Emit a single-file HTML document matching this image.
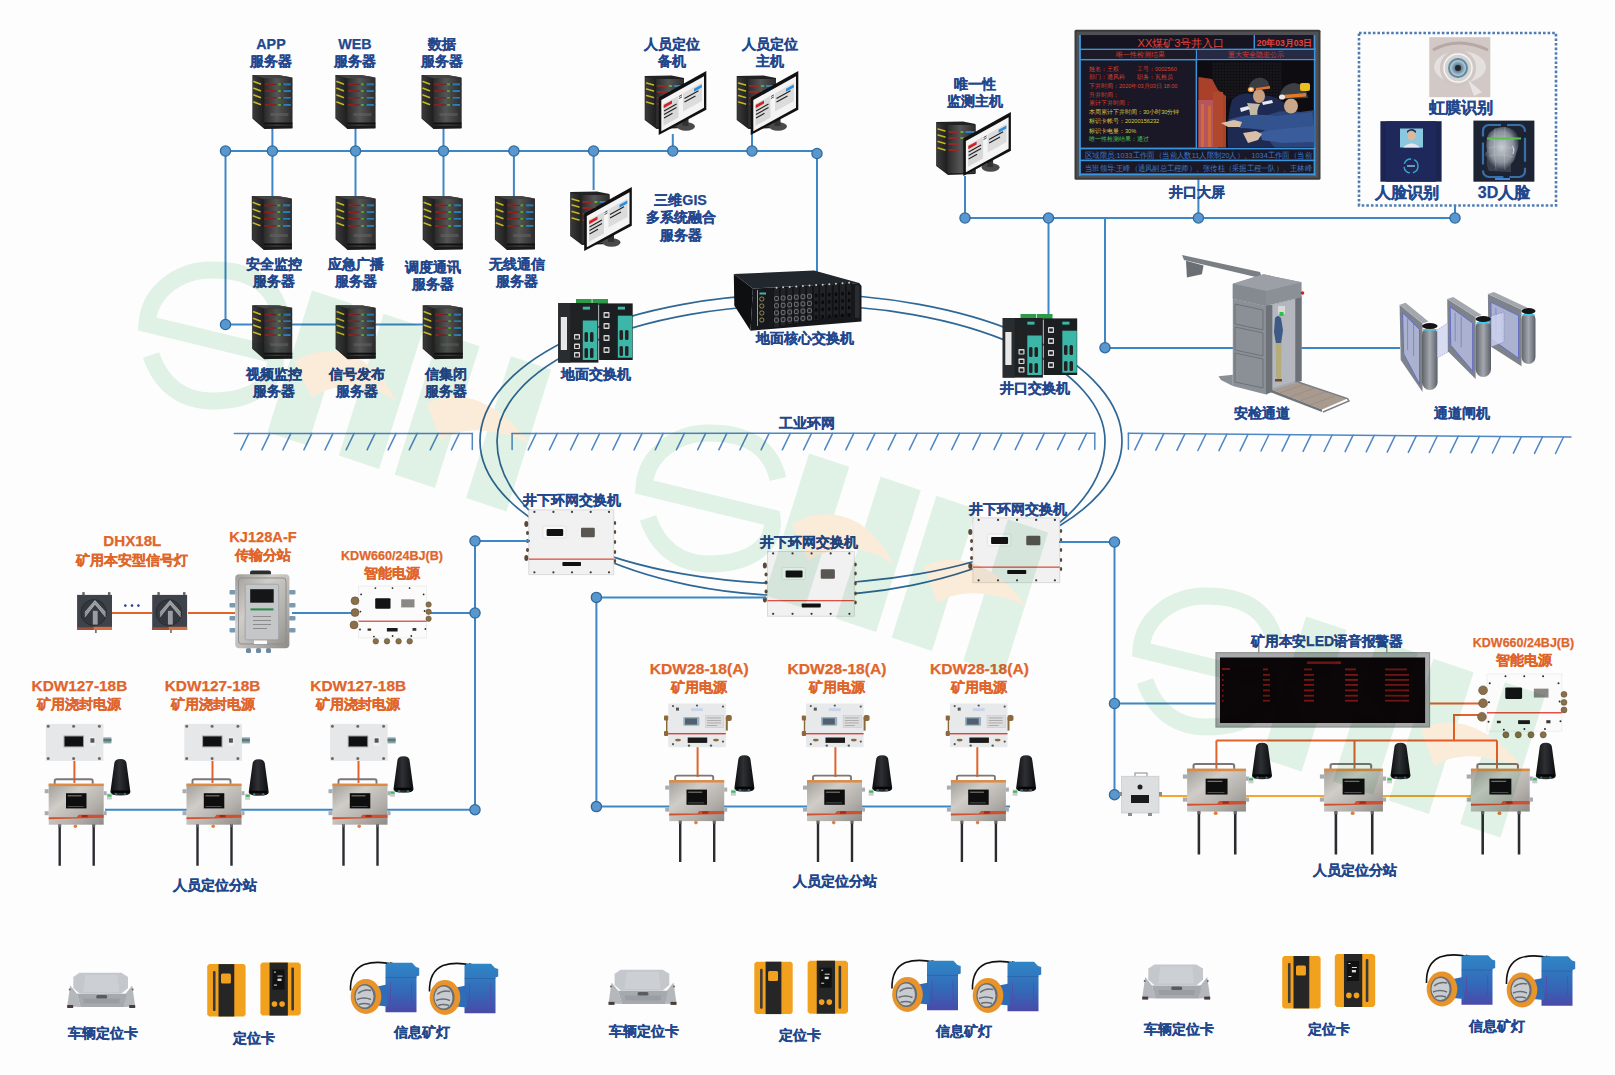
<!DOCTYPE html>
<html><head><meta charset="utf-8"><title>人员定位系统拓扑图</title>
<style>
html,body{margin:0;padding:0;background:#fff;}
body{width:1615px;height:1075px;overflow:hidden;font-family:"Liberation Sans", sans-serif;}
svg{display:block;}
svg text{font-family:"Liberation Sans", sans-serif;}
</style></head><body>
<svg width="1615" height="1075" viewBox="0 0 1615 1075">
<defs>

<linearGradient id="gSrvF" x1="0" x2="1" y1="0" y2="0">
 <stop offset="0" stop-color="#2a2a2a"/><stop offset="0.45" stop-color="#555"/><stop offset="1" stop-color="#2c2c2c"/>
</linearGradient>
<linearGradient id="gSrvS" x1="0" x2="1">
 <stop offset="0" stop-color="#3a3a3a"/><stop offset="1" stop-color="#1e1e1e"/>
</linearGradient>
<symbol id="srv" viewBox="0 0 40 54" overflow="visible" preserveAspectRatio="none">
 <path d="M0 0 L27 0.3 L40 2.6 L40 53 L12 54 L0 43.5 Z" fill="#222"/>
 <path d="M0.6 1 L11.8 3 L11.8 53 L0.6 43 Z" fill="url(#gSrvS)"/>
 <rect x="11.8" y="3" width="28" height="49" fill="url(#gSrvF)"/>
 <path d="M0 0 L27 0.3 L40 2.6 L11.8 3.2 Z" fill="#444"/>
 <g stroke-width="1.6" stroke-linecap="round">
  <path d="M13 9.4 H22 M13 16.1 H22 M13 22.8 H22 M13 29.9 H22" stroke="#b02020"/>
  <path d="M26 9.4 H28 M26 16.1 H28 M26 22.8 H28 M26 29.9 H28" stroke="#5fd030"/>
  <path d="M31.5 9.4 H38 M31.5 16.1 H38 M31.5 22.8 H38 M31.5 29.9 H38" stroke="#2c9be8"/>
  <path d="M1.5 6.6 L8 9 M1.5 13.3 L8 15.7 M1.5 20 L8 22.4 M1.5 27 L8 29.4" stroke="#c8b820"/>
 </g>
 <path d="M11.8 9.4 H40 M11.8 16.1 H40 M11.8 22.8 H40 M11.8 29.9 H40" stroke="#111" stroke-width="0.5" opacity="0.6"/>
 <rect x="18" y="38" width="18" height="3" fill="#666" opacity="0.5"/>
 <rect x="11.8" y="47.5" width="28.2" height="2" fill="#111"/>
 <rect x="11.8" y="50.5" width="28.2" height="3" fill="#1a1a1a"/>
</symbol>
<symbol id="monS" viewBox="0 0 62 64" overflow="visible" preserveAspectRatio="none">
 <path d="M0.2 5 L27 4.5 L39.5 7 L39.5 57 L12 58 L0.2 49 Z" fill="#222"/>
 <path d="M0.8 6 L11.5 8 L11.5 57 L0.8 48.5 Z" fill="url(#gSrvS)"/>
 <rect x="11.5" y="8" width="28" height="48" fill="url(#gSrvF)"/>
 <g stroke-width="1.4" stroke-linecap="round">
  <path d="M2 12 L9 14 M2 18 L9 20 M2 24.5 L9 26.5 M2 31 L9 33" stroke="#c8b820"/>
  <path d="M13 15 H22 M13 21 H22 M13 27 H22 M13 33 H22" stroke="#b02020"/>
  <path d="M25 15 H27 M25 21 H27" stroke="#5fd030"/>
  <path d="M30 15 H38" stroke="#2c9be8"/>
 </g>
</symbol>
<symbol id="monM" viewBox="0 0 62 64" overflow="visible" preserveAspectRatio="none">
 <ellipse cx="41.5" cy="55.5" rx="9" ry="4.2" fill="#4a4a4a"/>
 <rect x="38" y="48" width="6" height="7" fill="#333"/>
 <path d="M14.2 26.5 L61.8 0 L61.8 38.8 L14.2 64 Z" fill="#111"/>
 <path d="M16.8 29 L59.5 5.2 L59.5 36.8 L16.8 60.2 Z" fill="#f4f4f4"/>
 <path d="M19 33 L34 24.7 L34 46.5 L19 54.8 Z" fill="#d8d8d8"/>
 <path d="M38.5 22.3 L57.5 11.8 L57.5 30 L38.5 40.5 Z" fill="#dcdcdc"/>
 <path d="M19.2 34 L27.5 29.4 L27.5 32.6 L19.2 37.2 Z" fill="#d42020"/>
 <path d="M49.5 17.8 L57.3 13.5 L57.3 16.5 L49.5 20.8 Z" fill="#2a8ee0"/>
 <g stroke="#222" stroke-width="1.1">
  <path d="M19.5 40 L32 33 M19.5 43.5 L32 36.5 M19.5 47 L28 42.3"/>
  <path d="M40 27.5 L54 19.8 M40 31 L51 25"/>
  <path d="M34.5 25.5 L37.5 23.8 M34.5 27.5 L37.5 25.8" stroke-width="0.8"/>
 </g>
</symbol>
<symbol id="mon" viewBox="0 0 62 64" overflow="visible" preserveAspectRatio="none">
 <use href="#monS" x="0" y="0" width="62" height="64"/>
 <use href="#monM" x="0" y="0" width="62" height="64"/>
</symbol>


<linearGradient id="gPhoto" x1="0" x2="1" y1="0" y2="1">
 <stop offset="0" stop-color="#2a1a18"/><stop offset="0.5" stop-color="#1e2236"/><stop offset="1" stop-color="#2b3a66"/>
</linearGradient>


<radialGradient id="gEye" cx="0.5" cy="0.5" r="0.6">
 <stop offset="0" stop-color="#3a4a5a"/><stop offset="0.18" stop-color="#6a8aa0"/><stop offset="0.35" stop-color="#b8c8d0"/>
 <stop offset="0.55" stop-color="#d8d4d2"/><stop offset="1" stop-color="#c8b8b4"/>
</radialGradient>
<radialGradient id="gFace3" cx="0.5" cy="0.45" r="0.5">
 <stop offset="0" stop-color="#c8ccd2"/><stop offset="0.7" stop-color="#8a909a"/><stop offset="1" stop-color="#3a4050"/>
</radialGradient>


<linearGradient id="gPil" x1="0" x2="1">
 <stop offset="0" stop-color="#5e636a"/><stop offset="0.5" stop-color="#a4a8ae"/><stop offset="1" stop-color="#5a5f66"/>
</linearGradient>


<symbol id="gsw" viewBox="0 0 77 65" overflow="visible" preserveAspectRatio="none">
 <rect x="19" y="1" width="15.7" height="6" fill="#2f9a48"/><rect x="35.4" y="1" width="15.6" height="6" fill="#2f9a48"/>
 <rect x="1.2" y="5" width="40.2" height="59.6" fill="#1f2224"/>
 <rect x="1.2" y="5" width="12" height="59.6" fill="#2a2d30"/>
 <rect x="3.8" y="19" width="6.2" height="33" fill="#e8e8e8"/>
 <rect x="25.8" y="22.5" width="14.5" height="39.5" fill="#3cb6a6"/>
 <rect x="25.8" y="8.7" width="7.2" height="2.9" fill="#3cb6a6"/>
 <g fill="#d8d8d8"><rect x="17" y="36" width="6" height="5.5" rx="0.8"/><rect x="17" y="45.5" width="6" height="5.5" rx="0.8"/><rect x="17" y="54" width="6" height="5.5" rx="0.8"/></g>
 <g fill="#222"><rect x="18.2" y="37.5" width="3.6" height="3"/><rect x="18.2" y="47" width="3.6" height="3"/><rect x="18.2" y="55.5" width="3.6" height="3"/>
  <rect x="27.5" y="34" width="3.5" height="10" rx="1.5"/><rect x="33" y="34" width="3.5" height="10" rx="1.5"/>
  <rect x="27.5" y="50" width="3.5" height="10" rx="1.5"/><rect x="33" y="50" width="3.5" height="10" rx="1.5"/>
  <rect x="16.5" y="15" width="5" height="14"/></g>
 <rect x="42.1" y="5.4" width="33.6" height="56.6" fill="#1c1f21"/>
 <rect x="60.8" y="17.7" width="14.5" height="42" fill="#3cb6a6"/>
 <rect x="60.8" y="8.7" width="7.2" height="2.9" fill="#3cb6a6"/>
 <g fill="#d8d8d8"><rect x="46.5" y="14" width="6" height="6" rx="0.8"/><rect x="46.5" y="25" width="6" height="6" rx="0.8"/><rect x="46.5" y="37" width="6" height="6" rx="0.8"/><rect x="46.5" y="49" width="6" height="6" rx="0.8"/></g>
 <g fill="#222"><rect x="47.7" y="15.5" width="3.6" height="3"/><rect x="47.7" y="26.5" width="3.6" height="3"/><rect x="47.7" y="38.5" width="3.6" height="3"/><rect x="47.7" y="50.5" width="3.6" height="3"/>
  <rect x="62.5" y="32" width="3.5" height="10" rx="1.5"/><rect x="68" y="32" width="3.5" height="10" rx="1.5"/>
  <rect x="62.5" y="48" width="3.5" height="10" rx="1.5"/><rect x="68" y="48" width="3.5" height="10" rx="1.5"/></g>
</symbol>
<symbol id="ugsw" viewBox="0 0 90 66" overflow="visible" preserveAspectRatio="none">
 <rect x="4.3" y="0.9" width="85" height="64.8" fill="#f1f1f1"/>
 <rect x="4.3" y="0.9" width="85" height="64.8" fill="none" stroke="#d4d4d4" stroke-width="0.8"/>
 <rect x="18.5" y="17" width="23" height="12" rx="1.5" fill="#f8f8f8" stroke="#d8d8d8" stroke-width="0.6"/>
 <rect x="22.1" y="19.9" width="16.6" height="7.1" rx="1" fill="#111"/>
 <rect x="56.5" y="18.7" width="13.8" height="9.5" rx="1.2" fill="#5a5652"/>
 <rect x="4.3" y="49.5" width="85" height="1.3" fill="#e05040"/>
 <rect x="37.9" y="53" width="18.6" height="4" rx="0.8" fill="#111"/>
 <g fill="#3a3a3a"><circle cx="9.9" cy="2.9" r="1.1"/><circle cx="28.9" cy="2.9" r="1.1"/><circle cx="47.5" cy="2.9" r="1.1"/><circle cx="66.2" cy="2.9" r="1.1"/><circle cx="84.5" cy="2.9" r="1.1"/>
  <circle cx="9.9" cy="63.3" r="1.1"/><circle cx="28.9" cy="63.3" r="1.1"/><circle cx="47.5" cy="63.3" r="1.1"/><circle cx="66.2" cy="63.3" r="1.1"/><circle cx="84.5" cy="63.3" r="1.1"/></g>
 <g fill="#5a4a38"><ellipse cx="1.8" cy="15" rx="2" ry="3"/><ellipse cx="3" cy="24" rx="1.5" ry="2"/><ellipse cx="3" cy="32" rx="1.5" ry="2"/><ellipse cx="3" cy="41" rx="1.5" ry="2"/><ellipse cx="1.8" cy="49" rx="2" ry="3"/>
  <ellipse cx="90.5" cy="14" rx="1.2" ry="2"/><ellipse cx="90.5" cy="23" rx="1.2" ry="2"/><ellipse cx="90.5" cy="33" rx="1.2" ry="2"/><ellipse cx="90.5" cy="43" rx="1.2" ry="2"/><ellipse cx="90.5" cy="52" rx="1.2" ry="2"/></g>
</symbol>


<linearGradient id="gSS" x1="0" x2="1" y1="0" y2="1">
 <stop offset="0" stop-color="#a09c98"/><stop offset="0.35" stop-color="#d0ccc8"/><stop offset="0.7" stop-color="#b2aeaa"/><stop offset="1" stop-color="#8e8a86"/>
</linearGradient>
<linearGradient id="gAnt" x1="0" x2="1">
 <stop offset="0" stop-color="#0e0e10"/><stop offset="0.45" stop-color="#2e3034"/><stop offset="1" stop-color="#0c0c0e"/>
</linearGradient>
<linearGradient id="gBat" x1="0" x2="0" y1="0" y2="1">
 <stop offset="0" stop-color="#2f86c6"/><stop offset="0.6" stop-color="#3468b8"/><stop offset="1" stop-color="#4a4aa8"/>
</linearGradient>
<symbol id="sub" viewBox="0 0 58 88" overflow="visible" preserveAspectRatio="none">
 <path d="M8 5 L8 1.5 Q8 0 10 0 L44 0 Q46 0 46 1.5 L46 5" fill="none" stroke="#7d7676" stroke-width="1.9"/>
 <rect x="2" y="4.5" width="55" height="41" fill="url(#gSS)"/>
 <rect x="2" y="4.5" width="55" height="2.4" fill="#e08a40"/>
 <rect x="19.3" y="14" width="20.5" height="15.2" fill="#0e0e0e"/>
 <g fill="#777"><rect x="21" y="16" width="14" height="1.2"/><rect x="21" y="27" width="16" height="0.6"/></g>
 <path d="M2 38 L30 38 L32 35.5 L57 35.5 L57 38.5 L2 40 Z" fill="#d05030"/>
 <rect x="35" y="35.8" width="6" height="2.2" fill="#a02818"/>
 <g fill="#a8acb0"><rect x="-2" y="10" width="4" height="4"/><rect x="-2" y="32" width="4" height="4"/><rect x="57" y="12" width="3" height="4"/><rect x="57" y="32" width="3" height="4"/></g>
 <circle cx="28.7" cy="47" r="1.8" fill="#e08040"/>
 <path d="M13 46 v40.5 M47 46 v40.5" stroke="#2a2c30" stroke-width="2.4"/>
 <rect x="11.5" y="45" width="3" height="3" fill="#666"/><rect x="45.5" y="45" width="3" height="3" fill="#666"/>
</symbol>
<symbol id="ant" viewBox="0 0 21 37" overflow="visible" preserveAspectRatio="none">
 <path d="M4.3 5 Q4.5 0 10.5 0 Q16.5 0 16.7 5 L20.5 33 Q20.5 36.5 10.5 36.5 Q0.5 36.5 0.5 33 Z" fill="url(#gAnt)"/>
 <rect x="2" y="31.5" width="17" height="2.5" fill="#050505"/>
 <circle cx="6" cy="35" r="1.2" fill="#3a6a7a"/><circle cx="15" cy="35" r="1.2" fill="#3a6a7a"/>
 <rect x="-3" y="34.5" width="5" height="6" fill="#c8ccd0"/><rect x="-2.5" y="35.5" width="4" height="2" fill="#30c050"/>
</symbol>
<symbol id="p127" viewBox="0 0 66 37" overflow="visible" preserveAspectRatio="none">
 <rect x="0" y="0" width="57.6" height="37" fill="#e6e7e8"/>
 <rect x="17.8" y="11.6" width="20.4" height="11.8" fill="#9a9c9e"/>
 <rect x="18.8" y="12.6" width="18.4" height="9.8" fill="#111"/>
 <rect x="43.8" y="13" width="5.8" height="9" fill="#f0f0f0"/><rect x="44.6" y="14.4" width="4" height="4.4" fill="#555"/>
 <g fill="#6a6a6a"><circle cx="2.4" cy="2.4" r="1.5"/><circle cx="27.8" cy="2.4" r="1.5"/><circle cx="53.6" cy="2.4" r="1.5"/>
 <circle cx="2.4" cy="34.6" r="1.5"/><circle cx="27.8" cy="34.6" r="1.5"/><circle cx="53.6" cy="34.6" r="1.5"/></g>
 <rect x="57.6" y="13.5" width="8" height="6" fill="#8aa4a8"/><rect x="57.6" y="15" width="8" height="2.5" fill="#5a7a80"/>
</symbol>
<symbol id="p28" viewBox="0 0 72 45" overflow="visible" preserveAspectRatio="none">
 <rect x="7.2" y="0" width="57.6" height="43.6" rx="1" fill="#e8e9eb"/>
 <rect x="22.3" y="13.4" width="16.1" height="8.8" rx="1.2" fill="#9ab0c0"/><rect x="24" y="14.8" width="12" height="6.2" fill="#506070"/>
 <rect x="44.3" y="11.9" width="18.5" height="12.2" fill="#dcdcdc" stroke="#c0c0c0" stroke-width="0.4"/>
 <g fill="#999"><rect x="46" y="14" width="14" height="0.7"/><rect x="46" y="16.5" width="14" height="0.7"/><rect x="46" y="19" width="14" height="0.7"/><rect x="46" y="21.5" width="10" height="0.7"/></g>
 <rect x="15" y="4" width="3" height="3" fill="#555"/>
 <rect x="30" y="4.5" width="12" height="3" fill="#c8d4e8"/>
 <rect x="7.2" y="29.4" width="57.6" height="1.4" fill="#e04040"/>
 <rect x="26.7" y="33.9" width="19.5" height="5.4" fill="#1a1a1a"/>
 <g fill="#555"><circle cx="12" cy="2.5" r="1.1"/><circle cx="36" cy="2" r="1.1"/><circle cx="62" cy="3" r="1.1"/><circle cx="12" cy="40.6" r="1.1"/><circle cx="28" cy="42" r="1.2"/><circle cx="50" cy="42" r="1.2"/><circle cx="62" cy="38" r="1.1"/></g>
 <g fill="#8a6a3a"><ellipse cx="17" cy="36.5" rx="3" ry="1.3"/><ellipse cx="55" cy="36.5" rx="3" ry="1.3"/>
  <rect x="3" y="12" width="4.2" height="5" rx="1"/><rect x="3" y="27.5" width="4.2" height="5" rx="1"/><rect x="5" y="14" width="1.5" height="17"/>
  <rect x="64.8" y="11.5" width="6" height="6" rx="2"/><rect x="64.8" y="14" width="2" height="13"/></g>
</symbol>
<symbol id="sig" viewBox="0 0 36 40" overflow="visible" preserveAspectRatio="none">
 <rect x="0.3" y="3.3" width="35.3" height="35.1" fill="#3e424a"/>
 <rect x="0.3" y="35.7" width="35.3" height="2.7" fill="#a05038"/>
 <rect x="17" y="35.2" width="18.6" height="3.2" fill="#d87040"/>
 <circle cx="17.1" cy="21" r="13" fill="#34373d" stroke="#26282c" stroke-width="0.8"/>
 <path d="M8.2 25 L18.4 12.2 L29.1 25" fill="none" stroke="#a8acb0" stroke-width="1.1"/>
 <path d="M8.2 23 L18.4 10.8 L29.1 23" fill="none" stroke="#a8acb0" stroke-width="1.1"/>
 <path d="M8.2 21 L18.4 9.2 L29.1 21" fill="none" stroke="#a8acb0" stroke-width="1.1"/>
 <rect x="16.2" y="19.2" width="4.9" height="13.8" fill="#9a9ea4"/>
 <g fill="#666"><rect x="5.5" y="0.5" width="2.5" height="3"/><rect x="31.5" y="0.5" width="2.5" height="3"/><rect x="18.5" y="38.4" width="1.6" height="3"/></g>
</symbol>
<symbol id="vcard" viewBox="0 0 68 36" overflow="visible" preserveAspectRatio="none">
 <path d="M3 13 L9.7 21.3 L13.3 34.5 L0 34 Z" fill="#b4b8bc"/>
 <path d="M65 13 L58.3 21.3 L56.8 34.5 L68 34 Z" fill="#b4b8bc"/>
 <path d="M9.7 21.3 L59.3 21.3 L56.8 34.5 L13.3 34.5 Z" fill="#a6aaae"/>
 <path d="M16 26 L53 26 L52 31 L17 31 Z" fill="#9a9ea2"/>
 <path d="M12.2 0.3 L54.2 0.3 L60.8 4.4 L60.8 15.6 L54 21.3 L12.5 21.3 L6.1 15.6 L6.1 4.4 Z" fill="#c4c8cc"/>
 <path d="M18 2.5 L50 2.5 L52 19.5 L16 19.5 Z" fill="#ccd0d4"/>
 <rect x="29" y="22.5" width="11" height="3.5" rx="1.5" fill="#5a5c60"/>
 <rect x="0" y="32.5" width="6" height="3" fill="#4a3c3c"/><rect x="62" y="32.5" width="6" height="3" fill="#4a3c3c"/>
 <circle cx="2.5" cy="17" r="1" fill="#666"/><circle cx="65.5" cy="17" r="1" fill="#666"/>
</symbol>
<symbol id="card1" viewBox="0 0 39 52.4" overflow="visible" preserveAspectRatio="none">
 <path d="M2 0 L37 0 L38.7 2 L38.7 50.4 L37 52.4 L2 52.4 L0 50.4 L0 2 Z" fill="#f2a11e"/>
 <rect x="11.4" y="0" width="15.9" height="52.4" fill="#262626"/>
 <rect x="13.9" y="9.4" width="10" height="10" rx="1.5" fill="#f2a11e"/>
 <rect x="5.8" y="7" width="2.6" height="40" rx="1" fill="#3a3a3a"/>
</symbol>
<symbol id="card2" viewBox="0 0 40 53" overflow="visible" preserveAspectRatio="none">
 <path d="M2 0 L38 0 L40.2 2 L40.2 51 L38 53 L2 53 L0 51 L0 2 Z" fill="#f2a11e"/>
 <rect x="9.1" y="0" width="18.2" height="53" fill="#262626"/>
 <rect x="12" y="7" width="12" height="20" fill="#111"/>
 <g fill="#ddd"><rect x="13.5" y="9" width="2" height="1"/><rect x="17" y="13" width="5" height="1"/><rect x="17" y="16" width="4" height="2.4"/><rect x="13.5" y="22" width="3" height="1"/></g>
 <circle cx="14" cy="41.4" r="2.8" fill="#f2a11e"/><circle cx="21.6" cy="41.4" r="2.8" fill="#f2a11e"/>
 <rect x="30.8" y="5" width="2.6" height="43" rx="1" fill="#3a3a3a"/>
</symbol>
<symbol id="lamp" viewBox="0 0 72 52" overflow="visible" preserveAspectRatio="none">
 <path d="M0.5 32 Q0 12 14 6 Q26 2 42 5.5" fill="none" stroke="#111" stroke-width="1.6"/>
 <path d="M40 3.5 L45 5 L45 9 L40 7.5 Z" fill="#222"/>
 <path d="M35.5 6 L38 4.2 L62 4.2 L66 8.5 L69.2 9.5 L69.2 17 L66.5 18 L66.5 53.7 L35.5 53.7 Z" fill="url(#gBat)"/>
 <path d="M35.5 19 L66.5 19" stroke="#2a5aa0" stroke-width="0.6"/>
 <rect x="40" y="24" width="1" height="20" fill="#6a3a9a" opacity="0.5"/>
 <rect x="61" y="24" width="1" height="20" fill="#6a3a9a" opacity="0.5"/>
 <path d="M27 28 L37 26 L38 48 L27 47 Z" fill="#2e6cb8"/>
 <ellipse cx="16" cy="38" rx="15.3" ry="17.4" fill="#e8942a"/>
 <ellipse cx="15" cy="38" rx="10.6" ry="12.6" fill="#6a6e72"/>
 <ellipse cx="14.5" cy="38" rx="9" ry="11" fill="#c8ccd0"/>
 <path d="M8 35 Q14 30 21 32 M7 41 Q14 38 21 41 M9 46 Q14 44 20 46" stroke="#6a6e72" stroke-width="1.4" fill="none"/>
</symbol>

</defs>
<rect width="1615" height="1075" fill="#fdfdfd"/>

<line x1="225.5" y1="151" x2="817" y2="151" stroke="#3d87c6" stroke-width="2"/>
<line x1="225.5" y1="151" x2="225.5" y2="324.5" stroke="#3d87c6" stroke-width="2"/>
<line x1="225.5" y1="324.5" x2="430" y2="324.5" stroke="#3d87c6" stroke-width="2"/>
<line x1="272.4" y1="128" x2="272.4" y2="197" stroke="#3d87c6" stroke-width="2"/>
<line x1="355.5" y1="128" x2="355.5" y2="197" stroke="#3d87c6" stroke-width="2"/>
<line x1="443.5" y1="128" x2="443.5" y2="197" stroke="#3d87c6" stroke-width="2"/>
<line x1="513.9" y1="151" x2="513.9" y2="197" stroke="#3d87c6" stroke-width="2"/>
<line x1="593.6" y1="151" x2="593.6" y2="190" stroke="#3d87c6" stroke-width="2"/>
<line x1="672.8" y1="134" x2="672.8" y2="151" stroke="#3d87c6" stroke-width="2"/>
<line x1="752" y1="134" x2="752" y2="151" stroke="#3d87c6" stroke-width="2"/>
<line x1="817" y1="151" x2="817" y2="272" stroke="#3d87c6" stroke-width="2"/>
<line x1="965" y1="176" x2="965" y2="218" stroke="#3d87c6" stroke-width="2"/>
<line x1="965" y1="218" x2="1455" y2="218" stroke="#3d87c6" stroke-width="2"/>
<line x1="1048.5" y1="218" x2="1048.5" y2="314" stroke="#3d87c6" stroke-width="2"/>
<line x1="1105" y1="218" x2="1105" y2="348" stroke="#3d87c6" stroke-width="2"/>
<line x1="1105" y1="348" x2="1400" y2="348" stroke="#3d87c6" stroke-width="2"/>
<line x1="1198.4" y1="179" x2="1198.4" y2="218" stroke="#3d87c6" stroke-width="2"/>
<line x1="1455" y1="205" x2="1455" y2="218" stroke="#3d87c6" stroke-width="2"/>
<path d="M480 441 A321 147 0 0 1 1122 441 A321 143 0 0 1 480 441 Z" fill="none" stroke="#2f6796" stroke-width="1.7"/>
<path d="M497 441 A304 136 0 0 1 1105 441 A304 155 0 0 1 497 441 Z" fill="none" stroke="#2f6796" stroke-width="1.7"/>
<g stroke="#4f87c4" stroke-width="1.5" fill="none" stroke-linecap="round"><line x1="234.3" y1="433.4" x2="472.3" y2="433.4"/><line x1="472.3" y1="433.4" x2="472.3" y2="449.4"/><line x1="248.8" y1="433.4" x2="240.8" y2="449.9"/><line x1="269.9" y1="433.4" x2="261.9" y2="449.9"/><line x1="290.9" y1="433.4" x2="282.9" y2="449.9"/><line x1="311.9" y1="433.4" x2="303.9" y2="449.9"/><line x1="333.0" y1="433.4" x2="325.0" y2="449.9"/><line x1="354.1" y1="433.4" x2="346.1" y2="449.9"/><line x1="375.1" y1="433.4" x2="367.1" y2="449.9"/><line x1="396.1" y1="433.4" x2="388.1" y2="449.9"/><line x1="417.2" y1="433.4" x2="409.2" y2="449.9"/><line x1="438.2" y1="433.4" x2="430.2" y2="449.9"/><line x1="459.3" y1="433.4" x2="451.3" y2="449.9"/></g>
<g stroke="#4f87c4" stroke-width="1.5" fill="none" stroke-linecap="round"><line x1="512.1" y1="433.4" x2="1094.8" y2="433.2"/><line x1="512.1" y1="433.4" x2="512.1" y2="449.4"/><line x1="1094.8" y1="433.2" x2="1094.8" y2="449.2"/><line x1="536.2" y1="433.4" x2="528.2" y2="449.9"/><line x1="557.4" y1="433.4" x2="549.4" y2="449.9"/><line x1="578.5" y1="433.4" x2="570.5" y2="449.9"/><line x1="599.7" y1="433.4" x2="591.7" y2="449.9"/><line x1="620.9" y1="433.4" x2="612.9" y2="449.9"/><line x1="642.1" y1="433.4" x2="634.1" y2="449.9"/><line x1="663.2" y1="433.3" x2="655.2" y2="449.8"/><line x1="684.4" y1="433.3" x2="676.4" y2="449.8"/><line x1="705.6" y1="433.3" x2="697.6" y2="449.8"/><line x1="726.8" y1="433.3" x2="718.8" y2="449.8"/><line x1="747.9" y1="433.3" x2="739.9" y2="449.8"/><line x1="769.1" y1="433.3" x2="761.1" y2="449.8"/><line x1="790.3" y1="433.3" x2="782.3" y2="449.8"/><line x1="811.5" y1="433.3" x2="803.5" y2="449.8"/><line x1="832.6" y1="433.3" x2="824.6" y2="449.8"/><line x1="853.8" y1="433.3" x2="845.8" y2="449.8"/><line x1="875.0" y1="433.3" x2="867.0" y2="449.8"/><line x1="896.1" y1="433.3" x2="888.1" y2="449.8"/><line x1="917.3" y1="433.3" x2="909.3" y2="449.8"/><line x1="938.5" y1="433.3" x2="930.5" y2="449.8"/><line x1="959.7" y1="433.2" x2="951.7" y2="449.7"/><line x1="980.8" y1="433.2" x2="972.8" y2="449.7"/><line x1="1002.0" y1="433.2" x2="994.0" y2="449.7"/><line x1="1023.2" y1="433.2" x2="1015.2" y2="449.7"/><line x1="1044.4" y1="433.2" x2="1036.4" y2="449.7"/><line x1="1065.5" y1="433.2" x2="1057.5" y2="449.7"/><line x1="1086.7" y1="433.2" x2="1078.7" y2="449.7"/></g>
<g stroke="#4f87c4" stroke-width="1.5" fill="none" stroke-linecap="round"><line x1="1128.4" y1="433.3" x2="1571" y2="437.1"/><line x1="1128.4" y1="433.3" x2="1128.4" y2="449.3"/><line x1="1142.8" y1="433.4" x2="1134.8" y2="449.9"/><line x1="1163.8" y1="433.6" x2="1155.8" y2="450.1"/><line x1="1184.9" y1="433.8" x2="1176.9" y2="450.3"/><line x1="1205.9" y1="434.0" x2="1197.9" y2="450.5"/><line x1="1226.9" y1="434.1" x2="1218.9" y2="450.6"/><line x1="1248.0" y1="434.3" x2="1240.0" y2="450.8"/><line x1="1269.0" y1="434.5" x2="1261.0" y2="451.0"/><line x1="1290.0" y1="434.7" x2="1282.0" y2="451.2"/><line x1="1311.1" y1="434.9" x2="1303.1" y2="451.4"/><line x1="1332.1" y1="435.0" x2="1324.1" y2="451.5"/><line x1="1353.1" y1="435.2" x2="1345.1" y2="451.7"/><line x1="1374.2" y1="435.4" x2="1366.2" y2="451.9"/><line x1="1395.2" y1="435.6" x2="1387.2" y2="452.1"/><line x1="1416.3" y1="435.8" x2="1408.3" y2="452.3"/><line x1="1437.3" y1="436.0" x2="1429.3" y2="452.5"/><line x1="1458.3" y1="436.1" x2="1450.3" y2="452.6"/><line x1="1479.4" y1="436.3" x2="1471.4" y2="452.8"/><line x1="1500.4" y1="436.5" x2="1492.4" y2="453.0"/><line x1="1521.4" y1="436.7" x2="1513.4" y2="453.2"/><line x1="1542.5" y1="436.9" x2="1534.5" y2="453.4"/><line x1="1563.5" y1="437.0" x2="1555.5" y2="453.5"/></g>
<use href="#srv" x="252.4" y="75" width="40" height="54"/>
<use href="#srv" x="335.4" y="75" width="40" height="54"/>
<use href="#srv" x="421.5" y="75" width="40" height="54"/>
<use href="#srv" x="251.8" y="196" width="40" height="54"/>
<use href="#srv" x="335.6" y="196" width="40" height="54"/>
<use href="#srv" x="422.7" y="196" width="40" height="54"/>
<use href="#srv" x="494.9" y="196" width="40" height="54"/>
<use href="#srv" x="252.2" y="305.2" width="40" height="54"/>
<use href="#srv" x="335.6" y="305.2" width="40" height="54"/>
<use href="#srv" x="422.7" y="305.2" width="40" height="54"/>
<use href="#mon" x="644.5" y="71" width="62" height="64"/>
<use href="#mon" x="736.5" y="71" width="62" height="64"/>
<use href="#mon" x="570" y="187" width="62" height="64"/>
<use href="#monS" x="936" y="117" width="62" height="64"/>
<use href="#monM" x="949.1" y="112" width="62" height="64"/>
<circle cx="225.5" cy="151" r="5.1" fill="#5a97ce" stroke="#2f6a9f" stroke-width="1.3"/>
<circle cx="272.4" cy="151" r="5.1" fill="#5a97ce" stroke="#2f6a9f" stroke-width="1.3"/>
<circle cx="355.5" cy="151" r="5.1" fill="#5a97ce" stroke="#2f6a9f" stroke-width="1.3"/>
<circle cx="443.5" cy="151" r="5.1" fill="#5a97ce" stroke="#2f6a9f" stroke-width="1.3"/>
<circle cx="513.9" cy="151" r="5.1" fill="#5a97ce" stroke="#2f6a9f" stroke-width="1.3"/>
<circle cx="593.6" cy="151" r="5.1" fill="#5a97ce" stroke="#2f6a9f" stroke-width="1.3"/>
<circle cx="672.8" cy="151" r="5.1" fill="#5a97ce" stroke="#2f6a9f" stroke-width="1.3"/>
<circle cx="752" cy="151" r="5.1" fill="#5a97ce" stroke="#2f6a9f" stroke-width="1.3"/>
<circle cx="817" cy="153.5" r="5.1" fill="#5a97ce" stroke="#2f6a9f" stroke-width="1.3"/>
<circle cx="225.5" cy="324.5" r="5.1" fill="#5a97ce" stroke="#2f6a9f" stroke-width="1.3"/>
<circle cx="965" cy="218" r="5.1" fill="#5a97ce" stroke="#2f6a9f" stroke-width="1.3"/>
<circle cx="1048.5" cy="218" r="5.1" fill="#5a97ce" stroke="#2f6a9f" stroke-width="1.3"/>
<circle cx="1198.4" cy="218" r="5.1" fill="#5a97ce" stroke="#2f6a9f" stroke-width="1.3"/>
<circle cx="1455" cy="218" r="5.1" fill="#5a97ce" stroke="#2f6a9f" stroke-width="1.3"/>
<circle cx="1105" cy="347.7" r="5.1" fill="#5a97ce" stroke="#2f6a9f" stroke-width="1.3"/>
<text x="271" y="48.5" font-size="14.3" fill="#23478d" text-anchor="middle" font-weight="bold" stroke="#23478d" stroke-width="0.25" >APP</text>
<text x="271" y="65.5" font-size="14.3" fill="#23478d" text-anchor="middle" font-weight="bold" stroke="#23478d" stroke-width="0.25" >服务器</text>
<text x="355" y="48.5" font-size="14.3" fill="#23478d" text-anchor="middle" font-weight="bold" stroke="#23478d" stroke-width="0.25" >WEB</text>
<text x="355" y="65.5" font-size="14.3" fill="#23478d" text-anchor="middle" font-weight="bold" stroke="#23478d" stroke-width="0.25" >服务器</text>
<text x="442" y="48.5" font-size="14.3" fill="#23478d" text-anchor="middle" font-weight="bold" stroke="#23478d" stroke-width="0.25" >数据</text>
<text x="442" y="65.5" font-size="14.3" fill="#23478d" text-anchor="middle" font-weight="bold" stroke="#23478d" stroke-width="0.25" >服务器</text>
<text x="672" y="48.5" font-size="14.3" fill="#23478d" text-anchor="middle" font-weight="bold" stroke="#23478d" stroke-width="0.25" >人员定位</text>
<text x="672" y="65.5" font-size="14.3" fill="#23478d" text-anchor="middle" font-weight="bold" stroke="#23478d" stroke-width="0.25" >备机</text>
<text x="770" y="48.5" font-size="14.3" fill="#23478d" text-anchor="middle" font-weight="bold" stroke="#23478d" stroke-width="0.25" >人员定位</text>
<text x="770" y="65.5" font-size="14.3" fill="#23478d" text-anchor="middle" font-weight="bold" stroke="#23478d" stroke-width="0.25" >主机</text>
<text x="273.5" y="269.0" font-size="14.3" fill="#23478d" text-anchor="middle" font-weight="bold" stroke="#23478d" stroke-width="0.25" >安全监控</text>
<text x="273.5" y="286.0" font-size="14.3" fill="#23478d" text-anchor="middle" font-weight="bold" stroke="#23478d" stroke-width="0.25" >服务器</text>
<text x="355.5" y="269.0" font-size="14.3" fill="#23478d" text-anchor="middle" font-weight="bold" stroke="#23478d" stroke-width="0.25" >应急广播</text>
<text x="355.5" y="286.0" font-size="14.3" fill="#23478d" text-anchor="middle" font-weight="bold" stroke="#23478d" stroke-width="0.25" >服务器</text>
<text x="433" y="272.0" font-size="14.3" fill="#23478d" text-anchor="middle" font-weight="bold" stroke="#23478d" stroke-width="0.25" >调度通讯</text>
<text x="433" y="289.0" font-size="14.3" fill="#23478d" text-anchor="middle" font-weight="bold" stroke="#23478d" stroke-width="0.25" >服务器</text>
<text x="517" y="269.0" font-size="14.3" fill="#23478d" text-anchor="middle" font-weight="bold" stroke="#23478d" stroke-width="0.25" >无线通信</text>
<text x="517" y="286.0" font-size="14.3" fill="#23478d" text-anchor="middle" font-weight="bold" stroke="#23478d" stroke-width="0.25" >服务器</text>
<text x="274" y="379.0" font-size="14.3" fill="#23478d" text-anchor="middle" font-weight="bold" stroke="#23478d" stroke-width="0.25" >视频监控</text>
<text x="274" y="396.0" font-size="14.3" fill="#23478d" text-anchor="middle" font-weight="bold" stroke="#23478d" stroke-width="0.25" >服务器</text>
<text x="357" y="379.0" font-size="14.3" fill="#23478d" text-anchor="middle" font-weight="bold" stroke="#23478d" stroke-width="0.25" >信号发布</text>
<text x="357" y="396.0" font-size="14.3" fill="#23478d" text-anchor="middle" font-weight="bold" stroke="#23478d" stroke-width="0.25" >服务器</text>
<text x="446" y="379.0" font-size="14.3" fill="#23478d" text-anchor="middle" font-weight="bold" stroke="#23478d" stroke-width="0.25" >信集闭</text>
<text x="446" y="396.0" font-size="14.3" fill="#23478d" text-anchor="middle" font-weight="bold" stroke="#23478d" stroke-width="0.25" >服务器</text>
<text x="680.6" y="205.0" font-size="14.3" fill="#23478d" text-anchor="middle" font-weight="bold" stroke="#23478d" stroke-width="0.25" >三维GIS</text>
<text x="680.6" y="222.3" font-size="14.3" fill="#23478d" text-anchor="middle" font-weight="bold" stroke="#23478d" stroke-width="0.25" >多系统融合</text>
<text x="680.6" y="239.6" font-size="14.3" fill="#23478d" text-anchor="middle" font-weight="bold" stroke="#23478d" stroke-width="0.25" >服务器</text>
<text x="975" y="89.0" font-size="14.3" fill="#23478d" text-anchor="middle" font-weight="bold" stroke="#23478d" stroke-width="0.25" >唯一性</text>
<text x="975" y="106.0" font-size="14.3" fill="#23478d" text-anchor="middle" font-weight="bold" stroke="#23478d" stroke-width="0.25" >监测主机</text>
<text x="1197" y="197.0" font-size="14.3" fill="#23478d" text-anchor="middle" font-weight="bold" stroke="#23478d" stroke-width="0.25" >井口大屏</text>
<text x="1461" y="113.0" font-size="16" fill="#23478d" text-anchor="middle" font-weight="bold" stroke="#23478d" stroke-width="0.25" >虹膜识别</text>
<text x="1407.4" y="197.5" font-size="16" fill="#23478d" text-anchor="middle" font-weight="bold" stroke="#23478d" stroke-width="0.25" >人脸识别</text>
<text x="1504" y="197.5" font-size="16" fill="#23478d" text-anchor="middle" font-weight="bold" stroke="#23478d" stroke-width="0.25" >3D人脸</text>
<text x="1262.3" y="418.0" font-size="14.3" fill="#23478d" text-anchor="middle" font-weight="bold" stroke="#23478d" stroke-width="0.25" >安检通道</text>
<text x="1462.2" y="418.0" font-size="14.3" fill="#23478d" text-anchor="middle" font-weight="bold" stroke="#23478d" stroke-width="0.25" >通道闸机</text>
<text x="805.3" y="343.0" font-size="14.3" fill="#23478d" text-anchor="middle" font-weight="bold" stroke="#23478d" stroke-width="0.25" >地面核心交换机</text>
<text x="595.7" y="378.5" font-size="14.3" fill="#23478d" text-anchor="middle" font-weight="bold" stroke="#23478d" stroke-width="0.25" >地面交换机</text>
<text x="1034.7" y="393.0" font-size="14.3" fill="#23478d" text-anchor="middle" font-weight="bold" stroke="#23478d" stroke-width="0.25" >井口交换机</text>
<text x="806.5" y="427.5" font-size="14.3" fill="#23478d" text-anchor="middle" font-weight="bold" stroke="#23478d" stroke-width="0.25" >工业环网</text>
<rect x="1074.5" y="29.8" width="246" height="150" rx="1.5" fill="#3b3b3d"/>
<rect x="1076.5" y="31.8" width="242" height="146" fill="#505054"/>
<rect x="1078.9" y="35" width="236.7" height="140.6" fill="#1a1826"/>
<g fill="#3a95dc"><rect x="1078.9" y="35" width="2" height="140.6"/><rect x="1313.6" y="35" width="2" height="140.6"/><rect x="1078.9" y="48.4" width="236.7" height="1.6"/><rect x="1078.9" y="58.8" width="236.7" height="1.6"/><rect x="1078.9" y="147.6" width="236.7" height="1.8"/><rect x="1078.9" y="159.6" width="236.7" height="1.6"/><rect x="1078.9" y="173.4" width="236.7" height="2.2"/><rect x="1253.6" y="35" width="1.4" height="13.4"/><rect x="1195.6" y="50" width="1.6" height="98"/></g>
<rect x="1081" y="36" width="172" height="12.4" fill="#161420"/>
<rect x="1197.2" y="50" width="116.4" height="8.8" fill="#262a44"/>
<rect x="1081" y="50" width="114.6" height="8.8" fill="#1c1a26"/>
<rect x="1197.2" y="60.4" width="116.4" height="87.2" fill="#0e0c10"/>
<g stroke="#2a2a2e" stroke-width="0.5" opacity="0.9"><path d="M1214 62 V100"/><path d="M1217 62 V100"/><path d="M1220 62 V100"/><path d="M1223 62 V100"/><path d="M1226 62 V100"/><path d="M1229 62 V100"/><path d="M1232 62 V100"/><path d="M1235 62 V100"/><path d="M1238 62 V100"/><path d="M1241 62 V100"/><path d="M1244 62 V100"/><path d="M1247 62 V100"/><path d="M1250 62 V100"/><path d="M1253 62 V100"/><path d="M1256 62 V100"/><path d="M1259 62 V100"/><path d="M1262 62 V100"/><path d="M1265 62 V100"/><path d="M1268 62 V100"/><path d="M1271 62 V100"/><path d="M1274 62 V100"/><path d="M1277 62 V100"/><path d="M1280 62 V100"/><path d="M1212 64 H1282"/><path d="M1212 67 H1282"/><path d="M1212 70 H1282"/><path d="M1212 73 H1282"/><path d="M1212 76 H1282"/><path d="M1212 79 H1282"/><path d="M1212 82 H1282"/><path d="M1212 85 H1282"/><path d="M1212 88 H1282"/><path d="M1212 91 H1282"/><path d="M1212 94 H1282"/><path d="M1212 97 H1282"/></g>
<path d="M1198.4 77 L1212 79 L1218 90 L1226 96 L1226 147.5 L1198.4 147.5 Z" fill="#a8402a"/>
<path d="M1198.4 100 L1216 100 L1218 147.5 L1198.4 147.5 Z" fill="#b85a6a" opacity="0.8"/>
<path d="M1201 104 h3 v43 h-3z M1208 106 h3 v41 h-3z" fill="#d06a3a"/>
<path d="M1213 92 h10 v55 h-10z" fill="#b0482e"/>
<path d="M1232 100 Q1240 92 1252 94 L1270 96 Q1286 100 1290 112 L1292 147.5 L1228 147.5 Q1226 120 1232 100 Z" fill="#1e2a52"/>
<path d="M1247 103 q4 10 3 18 l8 -3 q-2 -8 2 -14 z" fill="#d8c8b0" opacity="0.9"/>
<path d="M1240 108 l8 -2 l2 3 l-9 3 z M1262 102 l10 -2 l1 3 l-10 2 z" fill="#e8e8f0"/>
<ellipse cx="1259" cy="96" rx="6" ry="7" fill="#c8a080"/>
<path d="M1248 90 Q1250 78 1260 77.5 Q1269 78 1270 89 Z" fill="#3a3e42"/>
<ellipse cx="1251" cy="89.5" rx="3.2" ry="2.6" fill="#f08a30"/><ellipse cx="1251" cy="89.5" rx="1.8" ry="1.4" fill="#f8e8c8"/>
<path d="M1256 88 L1270 86 L1270 88.5 L1256 90.5 Z" fill="#e07030"/>
<path d="M1262 118 Q1280 108 1300 112 L1314.4 110 L1314.4 147.5 L1275 147.5 Q1262 135 1262 118 Z" fill="#2c4478"/>
<path d="M1228 120 Q1250 112 1275 116 L1312 112 L1314.4 130 L1278 133 Q1255 128 1240 128 Z" fill="#33538e"/>
<path d="M1260 132 Q1285 128 1314.4 126 L1314.4 142 L1282 143 Q1268 141 1262 140 Z" fill="#3a5c9a"/>
<ellipse cx="1291" cy="106" rx="7" ry="7.5" fill="#c8a888"/>
<path d="M1279 99 Q1281 84 1294 83 Q1306 84 1308 98 Z" fill="#3c4046"/>
<path d="M1282 95 L1306 93 L1306 96.5 L1282 98.5 Z" fill="#e07a28"/>
<rect x="1300" y="83" width="10" height="8" rx="2" fill="#e8c020"/>
<ellipse cx="1282" cy="97" rx="3" ry="2.6" fill="#e8e8ec"/>
<path d="M1221 123 L1234 120 L1242 122 L1240 127 L1228 127 Z" fill="#d8c0a8"/>
<path d="M1243 133 L1256 131 L1262 134 L1258 140 L1248 143 Z" fill="#d8c0a8"/>
<text x="1181" y="46.6" font-size="11" fill="#e8403a" text-anchor="middle" font-family="Liberation Sans, sans-serif">XX煤矿3号井入口</text>
<text x="1284.5" y="45.6" font-size="8.6" fill="#e8403a" text-anchor="middle" font-weight="bold" font-family="Liberation Sans, sans-serif">20年03月03日</text>
<text x="1140" y="57.3" font-size="7.4" fill="#d83a32" text-anchor="middle" font-family="Liberation Sans, sans-serif">唯一性检测结果</text>
<text x="1256" y="57.3" font-size="7.4" fill="#d83a32" text-anchor="middle" font-family="Liberation Sans, sans-serif">重大安全隐患公示</text>
<text x="1089" y="70.5" font-size="5.6" fill="#d84030" font-family="Liberation Sans, sans-serif">姓名：王权　　　工号：0002560</text>
<text x="1089" y="79.4" font-size="5.6" fill="#d84030" font-family="Liberation Sans, sans-serif">部门：通风科　　职务：瓦检员</text>
<text x="1089" y="87.6" font-size="5.6" fill="#d84030" font-family="Liberation Sans, sans-serif">下井时间：2020年03月03日 18:00</text>
<text x="1089" y="96.5" font-size="5.6" fill="#d84030" font-family="Liberation Sans, sans-serif">升井时间：</text>
<text x="1089" y="104.6" font-size="5.6" fill="#d84030" font-family="Liberation Sans, sans-serif">累计下井时间：</text>
<text x="1089" y="113.5" font-size="5.6" fill="#d8c840" font-family="Liberation Sans, sans-serif">本周累计下井时间：30小时30分钟</text>
<text x="1089" y="123.3" font-size="5.6" fill="#d8c840" font-family="Liberation Sans, sans-serif">标识卡帐号：20200156232</text>
<text x="1089" y="132.6" font-size="5.6" fill="#d8c840" font-family="Liberation Sans, sans-serif">标识卡电量：30%</text>
<text x="1089" y="140.6" font-size="5.6" fill="#40c050" font-family="Liberation Sans, sans-serif">唯一性检测结果：通过</text>
<text x="1085" y="157.6" font-size="7.8" fill="#3a78c8" font-family="Liberation Sans, sans-serif" textLength="227" lengthAdjust="spacingAndGlyphs">区域限员:1033工作面（当前人数11人限制20人）、1034工作面（当前</text>
<text x="1085" y="171" font-size="7.8" fill="#3a78c8" font-family="Liberation Sans, sans-serif" textLength="227" lengthAdjust="spacingAndGlyphs">当班领导:王峰（通风副总工程师）、张传柱（采掘工程一队）、王林峰</text>
<rect x="1359" y="33" width="197" height="172.5" fill="none" stroke="#4f7cb2" stroke-width="2.6" stroke-dasharray="2.6 2"/>
<rect x="1429.3" y="37.2" width="61" height="60" fill="#d2c8c6"/>
<ellipse cx="1460" cy="67" rx="26" ry="16" fill="#e4e0de"/>
<circle cx="1458" cy="68" r="18" fill="url(#gEye)"/>
<circle cx="1458" cy="68" r="14" fill="none" stroke="#ffffff" stroke-width="1.4" opacity="0.8"/>
<circle cx="1458" cy="68" r="9" fill="none" stroke="#5a8aa8" stroke-width="2"/>
<circle cx="1458" cy="68" r="3" fill="#20282e"/>
<path d="M1433 50 q25 -14 55 0" fill="none" stroke="#b8a8a4" stroke-width="3"/>
<path d="M1468 80 l14 12 l-8 4 z" fill="#f0f0f0" opacity="0.7"/>
<rect x="1380.4" y="121.2" width="61.2" height="60.5" fill="#1c2452"/>
<rect x="1386" y="121.2" width="50" height="60.5" fill="#1e285a"/>
<rect x="1400" y="128.5" width="23" height="19" fill="#8ac8e0"/>
<circle cx="1411.5" cy="136" r="4.2" fill="#e0b898"/><path d="M1407 133 q4 -5 9 0 v-2 q-4 -4 -9 0z" fill="#2a2a3a"/>
<path d="M1403 147.5 q8.5 -8 17 0 z" fill="#e8e8ec"/>
<circle cx="1411" cy="166" r="7" fill="none" stroke="#3aa8c8" stroke-width="1.4" stroke-dasharray="9 3"/>
<rect x="1407" y="165.3" width="8" height="1.4" fill="#a0c8e0"/>
<rect x="1473.4" y="120.6" width="61" height="61.1" fill="#1c2434"/>
<rect x="1483" y="125" width="42" height="52" rx="6" fill="none" stroke="#3a6ea8" stroke-width="2.2" stroke-dasharray="12 6 22 6 12 0"/>
<path d="M1489 171 Q1486 165 1487 158 L1484.5 154 L1487 151 Q1485 140 1489 133 Q1496 126 1505 127 Q1515 128 1518 137 Q1520 146 1516 154 Q1515 161 1511 164 L1511 172 Z" fill="url(#gFace3)"/>
<path d="M1512 146 q3 2 1 8" stroke="#dde" stroke-width="1" fill="none"/>
<g stroke="#c8d0dc" stroke-width="0.4" opacity="0.7" fill="none"><path d="M1490 140 Q1500 136 1514 140 M1489 148 Q1500 145 1515 149 M1489 156 Q1500 153 1513 157 M1495 128 Q1493 150 1496 170 M1505 127 Q1503 150 1505 170"/></g>
<rect x="1487" y="137.5" width="34" height="2" fill="#58c048"/>
<rect x="1495" y="178" width="15" height="2" fill="#3a88d8"/>
<path d="M1182 255 L1260 272 L1262 278.5 L1184 260 Z" fill="#7a7f86"/>
<path d="M1186 260.8 L1203.5 265.6 L1201.9 274.3 L1186.9 277.4 Z" fill="#6a6f76"/>
<path d="M1218.5 376.3 L1232.8 374.7 L1232.8 386 L1221 380 Z" fill="#8a8f96"/>
<path d="M1270 389 L1295 381 L1347.5 398.5 L1322 409.6 Z" fill="#a89a8e"/>
<path d="M1270 389 L1322 409.6 L1322 412 L1270 392 Z" fill="#70757c"/>
<path d="M1295 381 L1347.5 398.5 L1349 401 L1323 412" fill="none" stroke="#7a7f86" stroke-width="1.5"/>
<g stroke="#8a7a70" stroke-width="0.5" opacity="0.7"><path d="M1280 393 L1305 384 M1290 397 L1315 388 M1300 401 L1325 392 M1310 405 L1335 396"/></g>
<path d="M1266 305.9 L1301.6 297.2 L1301.6 381 L1296 383 L1272.3 390 L1266 394.5 Z" fill="#a6aab0"/>
<path d="M1272.3 305 L1295.3 299.6 L1295.3 381 L1272.3 388 Z" fill="#b4b8be"/>
<path d="M1295.3 297.5 L1301.6 296 L1301.6 381 L1295.3 382.5 Z" fill="#6d7279"/>
<path d="M1266 305 L1272.3 305 L1272.3 392 L1266 394.5 Z" fill="#6d7279"/>
<path d="M1232.8 298.8 L1266 305.9 L1266 394.5 L1232.8 386 Z" fill="#8b9097"/>
<g fill="none" stroke="#666b72" stroke-width="0.8"><path d="M1235 304 L1263 310 L1263 330 L1235 324 Z M1235 327 L1263 333 L1263 356 L1235 350 Z M1235 353 L1263 359 L1263 388 L1235 382 Z"/></g>
<path d="M1232.8 283.8 L1263.6 274.3 L1301.6 282.2 L1301.6 297.2 L1266 305.9 L1232.8 298.8 Z" fill="#8b9097"/>
<path d="M1232.8 283.8 L1263.6 274.3 L1301.6 282.2 L1266 291 Z" fill="#9ca0a6"/>
<path d="M1232.8 283.8 L1266 291 L1266 305.9 L1232.8 298.8 Z" fill="#858a91"/>
<circle cx="1302.5" cy="293" r="1.8" fill="#d02020"/>
<path d="M1275 318 q3 -4 6 0 l2 12 l-2 14 l0 36 l-4 0 l-1 -36 l-2 -12 z" fill="#3d5a86"/>
<path d="M1275.5 343 h6 l-0.5 36 h-4.5 z" fill="#b5ac78"/>
<rect x="1275" y="379" width="7" height="2.5" fill="#6a4a2a"/>
<rect x="1278" y="306" width="7" height="8" fill="#d8d8d8"/><rect x="1279.5" y="312" width="4" height="4" fill="#30c040"/>
<path d="M1487.9 294.1 L1521.5 309.6 L1521.5 366.3 L1488.4 344.9 Z" fill="#7e838b"/>
<path d="M1490.9 302.1 L1518.5 315.6 L1518.5 358.3 L1491.4 338.9 Z" fill="#aeb4d4" opacity="0.95"/>
<path d="M1495.9 308.1 L1495.9 334.9 M1501.9 312.1 L1501.9 340.9" stroke="#6a70c0" stroke-width="0.8" opacity="0.8"/>
<path d="M1490.9 302.1 L1518.5 315.6 L1518.5 358.3 L1491.4 338.9 Z" fill="none" stroke="#5a64c8" stroke-width="0.8"/>
<path d="M1487.9 294.1 L1493.9 292.1 L1527.5 307.6 L1521.5 309.6 Z" fill="#a4a8ae"/>
<rect x="1521.5" y="312" width="14.0" height="52" rx="7.0" fill="url(#gPil)"/>
<ellipse cx="1528.5" cy="311" rx="7.0" ry="3" fill="#151515"/>
<rect x="1522.5" y="314" width="12.0" height="1.6" fill="#48c8e8"/>
<path d="M1447.2 298.9 L1475.6 317.1 L1475.6 379.1 L1447.8 351.3 Z" fill="#7e838b"/>
<path d="M1450.2 306.9 L1472.6 323.1 L1472.6 371.1 L1450.8 345.3 Z" fill="#aeb4d4" opacity="0.95"/>
<path d="M1455.2 312.9 L1455.2 341.3 M1461.2 316.9 L1461.2 347.3" stroke="#6a70c0" stroke-width="0.8" opacity="0.8"/>
<path d="M1450.2 306.9 L1472.6 323.1 L1472.6 371.1 L1450.8 345.3 Z" fill="none" stroke="#5a64c8" stroke-width="0.8"/>
<path d="M1447.2 298.9 L1453.2 296.9 L1481.6 315.1 L1475.6 317.1 Z" fill="#a4a8ae"/>
<rect x="1475.6" y="320" width="15.400000000000091" height="57" rx="7.7000000000000455" fill="url(#gPil)"/>
<ellipse cx="1483.3" cy="319" rx="7.7000000000000455" ry="3" fill="#151515"/>
<rect x="1476.6" y="322" width="13.400000000000091" height="1.6" fill="#48c8e8"/>
<path d="M1399.6 304.8 L1422.5 323.5 L1422.5 392 L1400.7 359.9 Z" fill="#7e838b"/>
<path d="M1402.6 312.8 L1419.5 329.5 L1419.5 384 L1403.7 353.9 Z" fill="#aeb4d4" opacity="0.95"/>
<path d="M1407.6 318.8 L1407.6 349.9 M1413.6 322.8 L1413.6 355.9" stroke="#6a70c0" stroke-width="0.8" opacity="0.8"/>
<path d="M1402.6 312.8 L1419.5 329.5 L1419.5 384 L1403.7 353.9 Z" fill="none" stroke="#5a64c8" stroke-width="0.8"/>
<path d="M1399.6 304.8 L1405.6 302.8 L1428.5 321.5 L1422.5 323.5 Z" fill="#a4a8ae"/>
<rect x="1422" y="327" width="15.599999999999909" height="63" rx="7.7999999999999545" fill="url(#gPil)"/>
<ellipse cx="1429.8" cy="326" rx="7.7999999999999545" ry="3" fill="#151515"/>
<rect x="1423" y="329" width="13.599999999999909" height="1.6" fill="#48c8e8"/>
<path d="M1437 330 L1448 323 L1448 352 L1437 358 Z" fill="#d0d4f0" opacity="0.8" stroke="#6a70c8" stroke-width="0.6" stroke-dasharray="1.5 1"/>
<path d="M1491 316 L1504 312 L1504 342 L1491 347 Z" fill="#d0d4f0" opacity="0.8" stroke="#6a70c8" stroke-width="0.6" stroke-dasharray="1.5 1"/>
<use href="#gsw" x="557" y="298" width="77" height="65"/>
<use href="#gsw" x="1001.5" y="313" width="77" height="65"/>
<path d="M733.8 274.1 L814.1 270.5 L859.2 282.9 L752.9 288.5 Z" fill="#22262d"/>
<path d="M733.8 274.1 L752.9 288.5 L750.5 330.7 L734.3 305.6 Z" fill="#0e0f11"/>
<path d="M752.9 288.5 L859.2 282.9 L861.5 286 L861.5 321.4 L750.5 330.7 Z" fill="#17181b"/>
<g><rect x="773.7" y="288.2" width="5.6" height="39.0" fill="#202226" stroke="#0a0a0a" stroke-width="0.4"/><circle cx="776.5" cy="287.8" r="1" fill="#ccc"/><rect x="774.6" y="296.5" width="3.8" height="4" rx="0.8" fill="none" stroke="#9a9a9a" stroke-width="0.7"/><rect x="774.6" y="303.7" width="3.8" height="4" rx="0.8" fill="none" stroke="#9a9a9a" stroke-width="0.7"/><rect x="774.6" y="310.9" width="3.8" height="4" rx="0.8" fill="none" stroke="#9a9a9a" stroke-width="0.7"/><rect x="774.6" y="318.1" width="3.8" height="4" rx="0.8" fill="none" stroke="#9a9a9a" stroke-width="0.7"/><rect x="780.3000000000001" y="287.75" width="5.6" height="38.25" fill="#202226" stroke="#0a0a0a" stroke-width="0.4"/><circle cx="783.1" cy="287.35" r="1" fill="#ccc"/><rect x="781.2" y="296.05" width="3.8" height="4" rx="0.8" fill="none" stroke="#9a9a9a" stroke-width="0.7"/><rect x="781.2" y="303.25" width="3.8" height="4" rx="0.8" fill="none" stroke="#9a9a9a" stroke-width="0.7"/><rect x="781.2" y="310.45" width="3.8" height="4" rx="0.8" fill="none" stroke="#9a9a9a" stroke-width="0.7"/><rect x="781.2" y="317.65000000000003" width="3.8" height="4" rx="0.8" fill="none" stroke="#9a9a9a" stroke-width="0.7"/><rect x="786.9000000000001" y="287.3" width="5.6" height="37.5" fill="#202226" stroke="#0a0a0a" stroke-width="0.4"/><circle cx="789.7" cy="286.90000000000003" r="1" fill="#ccc"/><rect x="787.8000000000001" y="295.6" width="3.8" height="4" rx="0.8" fill="none" stroke="#9a9a9a" stroke-width="0.7"/><rect x="787.8000000000001" y="302.8" width="3.8" height="4" rx="0.8" fill="none" stroke="#9a9a9a" stroke-width="0.7"/><rect x="787.8000000000001" y="310.0" width="3.8" height="4" rx="0.8" fill="none" stroke="#9a9a9a" stroke-width="0.7"/><rect x="787.8000000000001" y="317.20000000000005" width="3.8" height="4" rx="0.8" fill="none" stroke="#9a9a9a" stroke-width="0.7"/><rect x="793.5" y="286.84999999999997" width="5.6" height="36.75" fill="#202226" stroke="#0a0a0a" stroke-width="0.4"/><circle cx="796.3" cy="286.45" r="1" fill="#ccc"/><rect x="794.4" y="295.15" width="3.8" height="4" rx="0.8" fill="none" stroke="#9a9a9a" stroke-width="0.7"/><rect x="794.4" y="302.34999999999997" width="3.8" height="4" rx="0.8" fill="none" stroke="#9a9a9a" stroke-width="0.7"/><rect x="794.4" y="309.54999999999995" width="3.8" height="4" rx="0.8" fill="none" stroke="#9a9a9a" stroke-width="0.7"/><rect x="794.4" y="316.75" width="3.8" height="4" rx="0.8" fill="none" stroke="#9a9a9a" stroke-width="0.7"/><rect x="800.1" y="286.4" width="5.6" height="36.0" fill="#202226" stroke="#0a0a0a" stroke-width="0.4"/><circle cx="802.9" cy="286.0" r="1" fill="#ccc"/><rect x="801.0" y="294.7" width="3.8" height="4" rx="0.8" fill="none" stroke="#9a9a9a" stroke-width="0.7"/><rect x="801.0" y="301.9" width="3.8" height="4" rx="0.8" fill="none" stroke="#9a9a9a" stroke-width="0.7"/><rect x="801.0" y="309.09999999999997" width="3.8" height="4" rx="0.8" fill="none" stroke="#9a9a9a" stroke-width="0.7"/><rect x="801.0" y="316.3" width="3.8" height="4" rx="0.8" fill="none" stroke="#9a9a9a" stroke-width="0.7"/><rect x="806.7" y="285.95" width="5.6" height="35.25" fill="#202226" stroke="#0a0a0a" stroke-width="0.4"/><circle cx="809.5" cy="285.55" r="1" fill="#ccc"/><rect x="807.6" y="294.25" width="3.8" height="4" rx="0.8" fill="none" stroke="#9a9a9a" stroke-width="0.7"/><rect x="807.6" y="301.45" width="3.8" height="4" rx="0.8" fill="none" stroke="#9a9a9a" stroke-width="0.7"/><rect x="807.6" y="308.65" width="3.8" height="4" rx="0.8" fill="none" stroke="#9a9a9a" stroke-width="0.7"/><rect x="807.6" y="315.85" width="3.8" height="4" rx="0.8" fill="none" stroke="#9a9a9a" stroke-width="0.7"/><rect x="813.3000000000001" y="285.5" width="5.6" height="34.5" fill="#202226" stroke="#0a0a0a" stroke-width="0.4"/><circle cx="816.1" cy="285.1" r="1" fill="#ccc"/><rect x="814.9000000000001" y="293.8" width="2.4" height="3.4" fill="#0a0a0a"/><rect x="814.9000000000001" y="301.0" width="2.4" height="3.4" fill="#0a0a0a"/><rect x="814.9000000000001" y="308.2" width="2.4" height="3.4" fill="#0a0a0a"/><rect x="814.9000000000001" y="315.40000000000003" width="2.4" height="3.4" fill="#0a0a0a"/><rect x="819.9000000000001" y="285.05" width="5.6" height="33.75" fill="#202226" stroke="#0a0a0a" stroke-width="0.4"/><circle cx="822.7" cy="284.65000000000003" r="1" fill="#ccc"/><rect x="821.5000000000001" y="293.35" width="2.4" height="3.4" fill="#0a0a0a"/><rect x="821.5000000000001" y="300.55" width="2.4" height="3.4" fill="#0a0a0a"/><rect x="821.5000000000001" y="307.75" width="2.4" height="3.4" fill="#0a0a0a"/><rect x="821.5000000000001" y="314.95000000000005" width="2.4" height="3.4" fill="#0a0a0a"/><rect x="826.5" y="284.59999999999997" width="5.6" height="33.0" fill="#202226" stroke="#0a0a0a" stroke-width="0.4"/><circle cx="829.3" cy="284.2" r="1" fill="#ccc"/><rect x="828.1" y="292.9" width="2.4" height="3.4" fill="#0a0a0a"/><rect x="828.1" y="300.09999999999997" width="2.4" height="3.4" fill="#0a0a0a"/><rect x="828.1" y="307.29999999999995" width="2.4" height="3.4" fill="#0a0a0a"/><rect x="828.1" y="314.5" width="2.4" height="3.4" fill="#0a0a0a"/><rect x="833.1" y="284.15" width="5.6" height="32.25" fill="#202226" stroke="#0a0a0a" stroke-width="0.4"/><circle cx="835.9" cy="283.75" r="1" fill="#ccc"/><rect x="834.7" y="292.45" width="2.4" height="3.4" fill="#0a0a0a"/><rect x="834.7" y="299.65" width="2.4" height="3.4" fill="#0a0a0a"/><rect x="834.7" y="306.84999999999997" width="2.4" height="3.4" fill="#0a0a0a"/><rect x="834.7" y="314.05" width="2.4" height="3.4" fill="#0a0a0a"/><rect x="839.7" y="283.7" width="5.6" height="31.5" fill="#202226" stroke="#0a0a0a" stroke-width="0.4"/><circle cx="842.5" cy="283.3" r="1" fill="#ccc"/><rect x="841.3000000000001" y="292.0" width="2.4" height="3.4" fill="#0a0a0a"/><rect x="841.3000000000001" y="299.2" width="2.4" height="3.4" fill="#0a0a0a"/><rect x="841.3000000000001" y="306.4" width="2.4" height="3.4" fill="#0a0a0a"/><rect x="841.3000000000001" y="313.6" width="2.4" height="3.4" fill="#0a0a0a"/><rect x="846.3000000000001" y="283.25" width="5.6" height="30.75" fill="#202226" stroke="#0a0a0a" stroke-width="0.4"/><circle cx="849.1" cy="282.85" r="1" fill="#ccc"/><rect x="847.9000000000001" y="291.55" width="2.4" height="3.4" fill="#0a0a0a"/><rect x="847.9000000000001" y="298.75" width="2.4" height="3.4" fill="#0a0a0a"/><rect x="847.9000000000001" y="305.95" width="2.4" height="3.4" fill="#0a0a0a"/><rect x="847.9000000000001" y="313.15000000000003" width="2.4" height="3.4" fill="#0a0a0a"/></g>
<rect x="757" y="290" width="0.9" height="36" fill="#aaa"/>
<rect x="759.5" y="292.5" width="6.5" height="2" fill="#3cb6a6"/>
<g fill="none" stroke="#b8a860" stroke-width="0.8"><rect x="759.8" y="297" width="4" height="4" rx="1.5"/><rect x="759.8" y="304" width="4" height="4" rx="1.5"/><rect x="759.8" y="311" width="4" height="4" rx="1.5"/><rect x="759.8" y="318" width="4" height="4" rx="1.5"/></g>
<rect x="855" y="285" width="4.5" height="33" rx="1.5" fill="#2a2c30"/>
<use href="#ugsw" x="524.5" y="509" width="90" height="66"/>
<use href="#ugsw" x="763" y="550.5" width="92" height="66"/>
<use href="#ugsw" x="968.5" y="517" width="92" height="66"/>
<line x1="475" y1="541" x2="475" y2="810" stroke="#3d87c6" stroke-width="2"/>
<line x1="475" y1="541" x2="530" y2="541" stroke="#3d87c6" stroke-width="2"/>
<line x1="292" y1="613" x2="352" y2="613" stroke="#3d87c6" stroke-width="2"/>
<line x1="430" y1="613" x2="475" y2="613" stroke="#3d87c6" stroke-width="2"/>
<line x1="112" y1="613" x2="152" y2="613" stroke="#e2632a" stroke-width="2"/>
<line x1="188" y1="613" x2="235" y2="613" stroke="#e2632a" stroke-width="2"/>
<line x1="105" y1="809.7" x2="475" y2="809.7" stroke="#3d87c6" stroke-width="2"/>
<line x1="596.4" y1="597.4" x2="596.4" y2="806.6" stroke="#3d87c6" stroke-width="2"/>
<line x1="596.4" y1="597.4" x2="766" y2="597.4" stroke="#3d87c6" stroke-width="2"/>
<line x1="596.4" y1="806.6" x2="1010" y2="806.6" stroke="#3d87c6" stroke-width="2"/>
<line x1="1059" y1="542" x2="1114.5" y2="542" stroke="#3d87c6" stroke-width="2"/>
<line x1="1114.5" y1="542" x2="1114.5" y2="795" stroke="#3d87c6" stroke-width="2"/>
<line x1="1114.5" y1="703.5" x2="1216" y2="703.5" stroke="#3d87c6" stroke-width="2"/>
<line x1="1430" y1="703.5" x2="1480" y2="703.5" stroke="#e2632a" stroke-width="2"/>
<polyline points="1480,715 1454,715 1454,740.5" fill="none" stroke="#e2632a" stroke-width="2"/>
<line x1="1216.4" y1="740.5" x2="1497" y2="740.5" stroke="#e2632a" stroke-width="2"/>
<line x1="1216.4" y1="740.5" x2="1216.4" y2="769" stroke="#e2632a" stroke-width="2"/>
<line x1="1354.5" y1="740.5" x2="1354.5" y2="769" stroke="#e2632a" stroke-width="2"/>
<line x1="1497" y1="740.5" x2="1497" y2="769" stroke="#e2632a" stroke-width="2"/>
<line x1="1114.5" y1="795" x2="1125" y2="795" stroke="#3d87c6" stroke-width="2"/>
<line x1="1159" y1="796" x2="1480" y2="796" stroke="#f0a830" stroke-width="2"/>
<line x1="74.4" y1="760" x2="74.4" y2="783" stroke="#e2632a" stroke-width="2"/>
<line x1="212.5" y1="760" x2="212.5" y2="783" stroke="#e2632a" stroke-width="2"/>
<line x1="358.5" y1="760" x2="358.5" y2="783" stroke="#e2632a" stroke-width="2"/>
<line x1="697.6" y1="747" x2="697.6" y2="777" stroke="#e2632a" stroke-width="2"/>
<line x1="835.4" y1="747" x2="835.4" y2="777" stroke="#e2632a" stroke-width="2"/>
<line x1="977.3" y1="747" x2="977.3" y2="777" stroke="#e2632a" stroke-width="2"/>
<circle cx="475" cy="541" r="5.1" fill="#5a97ce" stroke="#2f6a9f" stroke-width="1.3"/>
<circle cx="475" cy="613" r="5.1" fill="#5a97ce" stroke="#2f6a9f" stroke-width="1.3"/>
<circle cx="475" cy="809.7" r="5.1" fill="#5a97ce" stroke="#2f6a9f" stroke-width="1.3"/>
<circle cx="596.4" cy="597.4" r="5.1" fill="#5a97ce" stroke="#2f6a9f" stroke-width="1.3"/>
<circle cx="596.4" cy="806.6" r="5.1" fill="#5a97ce" stroke="#2f6a9f" stroke-width="1.3"/>
<circle cx="1114.5" cy="542" r="5.1" fill="#5a97ce" stroke="#2f6a9f" stroke-width="1.3"/>
<circle cx="1114.5" cy="703.5" r="5.1" fill="#5a97ce" stroke="#2f6a9f" stroke-width="1.3"/>
<circle cx="1114.5" cy="794.7" r="5.1" fill="#5a97ce" stroke="#2f6a9f" stroke-width="1.3"/>
<use href="#sig" x="76.8" y="591.6" width="35.6" height="40"/>
<use href="#sig" x="151.9" y="591.6" width="35.6" height="40"/>
<circle cx="125.3" cy="605.6" r="1.3" fill="#2a3f8a"/>
<circle cx="132" cy="605.6" r="1.3" fill="#2a3f8a"/>
<circle cx="138.4" cy="605.6" r="1.3" fill="#2a3f8a"/>
<rect x="250" y="570.5" width="21" height="5" rx="2" fill="#2a2c30"/>
<g fill="#7a9ab0"><rect x="229.5" y="590" width="6" height="4.5" rx="1"/><rect x="289" y="590" width="6.5" height="4.5" rx="1"/><rect x="229.5" y="603" width="6" height="4.5" rx="1"/><rect x="289" y="603" width="6.5" height="4.5" rx="1"/><rect x="229.5" y="616" width="6" height="4.5" rx="1"/><rect x="289" y="616" width="6.5" height="4.5" rx="1"/><rect x="229.5" y="628" width="6" height="4.5" rx="1"/><rect x="289" y="628" width="6.5" height="4.5" rx="1"/></g>
<g fill="#6a8aa0"><rect x="246" y="648" width="5" height="5" rx="1.5"/><rect x="256" y="648" width="5" height="5" rx="1.5"/><rect x="266" y="648" width="5" height="5" rx="1.5"/></g>
<rect x="235.2" y="574.3" width="54.2" height="74" rx="4" fill="url(#gSS)"/>
<rect x="238.5" y="578" width="47.5" height="66" rx="3" fill="none" stroke="#8a8e92" stroke-width="1"/>
<rect x="245.2" y="584.2" width="33.5" height="55.6" rx="2" fill="#c4c6c8" stroke="#9a9ea2" stroke-width="0.8"/>
<rect x="250.2" y="589.2" width="23.5" height="13.5" fill="#141618"/>
<rect x="250.5" y="608.4" width="23" height="2" fill="#2a8a4a"/>
<g fill="#8a8c8e"><rect x="253" y="616" width="18" height="1"/><rect x="253" y="620" width="18" height="1"/><rect x="253" y="624" width="18" height="1"/><rect x="253" y="628" width="14" height="1"/></g>
<rect x="254" y="640.5" width="13" height="3.5" fill="#fafafa"/>
<g transform="translate(358.6 586) scale(1.0)"><rect x="0" y="0" width="68" height="52" fill="#fbfbfb" stroke="#ececec" stroke-width="0.8"/><rect x="16.6" y="12.3" width="15.3" height="10.4" rx="1" fill="#141414"/><rect x="42.6" y="13.3" width="13.3" height="8.1" fill="#8a8884"/><rect x="0" y="34.6" width="68" height="1.3" fill="#e04a38"/><rect x="9" y="42.5" width="3.5" height="2.2" fill="#3a2a1a"/><rect x="28.3" y="42" width="10.7" height="3.5" fill="#1a1a1a"/><rect x="53.9" y="42" width="3.8" height="2.8" fill="#3a3a3a"/><g fill="#2a2a2a"><circle cx="2.5" cy="8.4" r="0.9"/><circle cx="16.8" cy="2.1" r="0.9"/><circle cx="33.9" cy="2.1" r="0.9"/><circle cx="51" cy="2.1" r="0.9"/><circle cx="65" cy="8.4" r="0.9"/><circle cx="1.8" cy="25.6" r="0.9"/><circle cx="66" cy="25" r="0.9"/><circle cx="1.4" cy="43.5" r="0.9"/><circle cx="66.8" cy="43" r="0.9"/><circle cx="15.3" cy="50.6" r="0.9"/><circle cx="34" cy="50" r="0.9"/><circle cx="52.7" cy="50" r="0.9"/></g><g fill="#8a7048" stroke="#5a4a30" stroke-width="0.5"><circle cx="-3.6" cy="14.8" r="4"/><circle cx="-3.6" cy="26.6" r="4"/><circle cx="-4.6" cy="38.9" r="4"/><circle cx="70" cy="18.5" r="2.7"/><circle cx="70" cy="25.8" r="2.7"/><circle cx="70" cy="32.7" r="2.7"/><circle cx="17.2" cy="55.3" r="2.8"/><circle cx="28.4" cy="55.3" r="2.8"/><circle cx="40" cy="55.3" r="2.8"/><circle cx="51.1" cy="55.3" r="2.8"/></g></g>
<use href="#p127" x="45.8" y="723.9" width="66" height="37"/>
<use href="#sub" x="46.7" y="779.2" width="58" height="88"/>
<use href="#ant" x="109.9" y="759" width="21" height="37"/>
<use href="#p127" x="184.3" y="723.9" width="66" height="37"/>
<use href="#sub" x="184.5" y="779.2" width="58" height="88"/>
<use href="#ant" x="248.2" y="759.3" width="21" height="37"/>
<use href="#p127" x="330" y="723.9" width="66" height="37"/>
<use href="#sub" x="330.5" y="779.2" width="58" height="88"/>
<use href="#ant" x="393" y="756.2" width="21" height="37"/>
<use href="#p28" x="661" y="703.6" width="72" height="45"/>
<use href="#sub" x="667.2" y="775.6" width="58" height="88"/>
<use href="#ant" x="733.9" y="755.2" width="21" height="37"/>
<use href="#p28" x="798.8" y="703.6" width="72" height="45"/>
<use href="#sub" x="805.0" y="775.6" width="58" height="88"/>
<use href="#ant" x="871.7" y="755.2" width="21" height="37"/>
<use href="#p28" x="942.7" y="703.6" width="72" height="45"/>
<use href="#sub" x="948.9000000000001" y="775.6" width="58" height="88"/>
<use href="#ant" x="1015.5999999999999" y="755.2" width="21" height="37"/>
<rect x="1258" y="645" width="1.5" height="8" fill="#999"/><rect x="1386" y="645" width="1.5" height="8" fill="#999"/>
<rect x="1215.4" y="652.1" width="214.7" height="75.5" fill="#8c8e90"/>
<rect x="1216.6" y="653.3" width="212.3" height="73.1" fill="#a8aaac"/>
<rect x="1220" y="657.5" width="205.1" height="65.5" fill="#0b0607"/>
<g fill="#a01c1c" opacity="0.75"><rect x="1307" y="661.5" width="34" height="2.4"/><rect x="1222" y="668" width="8" height="2"/><rect x="1263" y="668.5" width="5" height="1.8"/><rect x="1263" y="674" width="7" height="1.8"/><rect x="1263" y="679" width="7" height="1.8"/><rect x="1263" y="684" width="7" height="1.8"/><rect x="1263" y="689.5" width="7" height="1.8"/><rect x="1263" y="694.8" width="7" height="1.8"/><rect x="1263" y="699.8" width="7" height="1.8"/><rect x="1304" y="668.5" width="8" height="1.8"/><rect x="1304" y="674" width="10" height="1.8"/><rect x="1304" y="679" width="10" height="1.8"/><rect x="1304" y="684" width="10" height="1.8"/><rect x="1304" y="689.5" width="10" height="1.8"/><rect x="1304" y="694.8" width="10" height="1.8"/><rect x="1304" y="699.8" width="10" height="1.8"/><rect x="1345" y="668.5" width="11" height="1.8"/><rect x="1345" y="674" width="13" height="1.8"/><rect x="1345" y="679" width="13" height="1.8"/><rect x="1345" y="684" width="13" height="1.8"/><rect x="1345" y="689.5" width="13" height="1.8"/><rect x="1345" y="694.8" width="13" height="1.8"/><rect x="1345" y="699.8" width="13" height="1.8"/><rect x="1385" y="668.5" width="22" height="1.8"/><rect x="1385" y="674" width="24" height="1.8"/><rect x="1385" y="679" width="24" height="1.8"/><rect x="1385" y="684" width="24" height="1.8"/><rect x="1385" y="689.5" width="24" height="1.8"/><rect x="1385" y="694.8" width="24" height="1.8"/><rect x="1385" y="699.8" width="24" height="1.8"/><rect x="1222" y="674" width="1.5" height="2"/><rect x="1222" y="679" width="1.5" height="2"/><rect x="1222" y="684" width="1.5" height="2"/><rect x="1222" y="689.5" width="1.5" height="2"/><rect x="1222" y="694.8" width="1.5" height="2"/><rect x="1222" y="699.8" width="1.5" height="2"/></g>
<g transform="translate(1487 674) scale(1.1)"><rect x="0" y="0" width="68" height="52" fill="#fbfbfb" stroke="#ececec" stroke-width="0.8"/><rect x="16.6" y="12.3" width="15.3" height="10.4" rx="1" fill="#141414"/><rect x="42.6" y="13.3" width="13.3" height="8.1" fill="#8a8884"/><rect x="0" y="34.6" width="68" height="1.3" fill="#e04a38"/><rect x="9" y="42.5" width="3.5" height="2.2" fill="#3a2a1a"/><rect x="28.3" y="42" width="10.7" height="3.5" fill="#1a1a1a"/><rect x="53.9" y="42" width="3.8" height="2.8" fill="#3a3a3a"/><g fill="#2a2a2a"><circle cx="2.5" cy="8.4" r="0.9"/><circle cx="16.8" cy="2.1" r="0.9"/><circle cx="33.9" cy="2.1" r="0.9"/><circle cx="51" cy="2.1" r="0.9"/><circle cx="65" cy="8.4" r="0.9"/><circle cx="1.8" cy="25.6" r="0.9"/><circle cx="66" cy="25" r="0.9"/><circle cx="1.4" cy="43.5" r="0.9"/><circle cx="66.8" cy="43" r="0.9"/><circle cx="15.3" cy="50.6" r="0.9"/><circle cx="34" cy="50" r="0.9"/><circle cx="52.7" cy="50" r="0.9"/></g><g fill="#8a7048" stroke="#5a4a30" stroke-width="0.5"><circle cx="-3.6" cy="14.8" r="4"/><circle cx="-3.6" cy="26.6" r="4"/><circle cx="-4.6" cy="38.9" r="4"/><circle cx="70" cy="18.5" r="2.7"/><circle cx="70" cy="25.8" r="2.7"/><circle cx="70" cy="32.7" r="2.7"/><circle cx="17.2" cy="55.3" r="2.8"/><circle cx="28.4" cy="55.3" r="2.8"/><circle cx="40" cy="55.3" r="2.8"/><circle cx="51.1" cy="55.3" r="2.8"/></g></g>
<rect x="1135" y="773" width="12" height="4" fill="none" stroke="#888" stroke-width="1"/>
<rect x="1121.7" y="776.2" width="37.3" height="36.8" fill="#dcdedf" stroke="#c0c2c4" stroke-width="0.6"/>
<rect x="1131" y="795" width="18" height="8" fill="#1a1a1a"/><circle cx="1140" cy="787" r="2.5" fill="#222"/>
<g fill="#8a8c8e"><rect x="1119" y="792" width="3" height="4"/><rect x="1159" y="792" width="3" height="4"/><rect x="1128" y="813" width="4" height="3"/><rect x="1148" y="813" width="4" height="3"/></g>
<use href="#sub" x="1185.0" y="764" width="62" height="92"/>
<use href="#ant" x="1251.5" y="742.8" width="21" height="37"/>
<use href="#sub" x="1322.0" y="764" width="62" height="92"/>
<use href="#ant" x="1390" y="742.8" width="21" height="37"/>
<use href="#sub" x="1468.8" y="764" width="62" height="92"/>
<use href="#ant" x="1535.3" y="742.8" width="21" height="37"/>
<use href="#vcard" x="67.2" y="972.5" width="68" height="36"/>
<use href="#card1" x="207.2" y="964.1" width="38.7" height="52.4"/>
<use href="#card2" x="260.4" y="962.6" width="40.2" height="53"/>
<use href="#lamp" x="350" y="958.5" width="72" height="52"/>
<use href="#lamp" x="429" y="959.5" width="72" height="52"/>
<use href="#vcard" x="608.5" y="969.4" width="68" height="36"/>
<use href="#card1" x="754.3" y="961.7" width="38.7" height="52.4"/>
<use href="#card2" x="807.6" y="960.7" width="40.2" height="53"/>
<use href="#lamp" x="891.5" y="956.5" width="72" height="52"/>
<use href="#lamp" x="972" y="957.5" width="72" height="52"/>
<use href="#vcard" x="1142.2" y="964.1" width="68" height="36"/>
<use href="#card1" x="1282.2" y="956" width="38.7" height="52.4"/>
<use href="#card2" x="1334.8" y="954" width="40.2" height="53"/>
<use href="#lamp" x="1426" y="951" width="72" height="52"/>
<use href="#lamp" x="1506" y="952" width="72" height="52"/>
<text x="132.3" y="546.0" font-size="15" fill="#e0652a" text-anchor="middle" font-weight="bold" stroke="#e0652a" stroke-width="0.25"  textLength="58" lengthAdjust="spacingAndGlyphs">DHX18L</text>
<text x="132.3" y="564.5" font-size="14.3" fill="#e0652a" text-anchor="middle" font-weight="bold" stroke="#e0652a" stroke-width="0.25" >矿用本安型信号灯</text>
<text x="263" y="541.5" font-size="15" fill="#e0652a" text-anchor="middle" font-weight="bold" stroke="#e0652a" stroke-width="0.25"  textLength="67.5" lengthAdjust="spacingAndGlyphs">KJ128A-F</text>
<text x="263" y="559.5" font-size="14.3" fill="#e0652a" text-anchor="middle" font-weight="bold" stroke="#e0652a" stroke-width="0.25" >传输分站</text>
<text x="392" y="560.0" font-size="13.5" fill="#e0652a" text-anchor="middle" font-weight="bold" stroke="#e0652a" stroke-width="0.25"  textLength="102" lengthAdjust="spacingAndGlyphs">KDW660/24BJ(B)</text>
<text x="392" y="577.5" font-size="14.3" fill="#e0652a" text-anchor="middle" font-weight="bold" stroke="#e0652a" stroke-width="0.25" >智能电源</text>
<text x="79.4" y="690.6" font-size="15" fill="#e0652a" text-anchor="middle" font-weight="bold" stroke="#e0652a" stroke-width="0.25"  textLength="95.7" lengthAdjust="spacingAndGlyphs">KDW127-18B</text>
<text x="79.4" y="708.6" font-size="14.3" fill="#e0652a" text-anchor="middle" font-weight="bold" stroke="#e0652a" stroke-width="0.25" >矿用浇封电源</text>
<text x="212.6" y="690.6" font-size="15" fill="#e0652a" text-anchor="middle" font-weight="bold" stroke="#e0652a" stroke-width="0.25"  textLength="95.7" lengthAdjust="spacingAndGlyphs">KDW127-18B</text>
<text x="212.6" y="708.6" font-size="14.3" fill="#e0652a" text-anchor="middle" font-weight="bold" stroke="#e0652a" stroke-width="0.25" >矿用浇封电源</text>
<text x="358.2" y="690.6" font-size="15" fill="#e0652a" text-anchor="middle" font-weight="bold" stroke="#e0652a" stroke-width="0.25"  textLength="95.7" lengthAdjust="spacingAndGlyphs">KDW127-18B</text>
<text x="358.2" y="708.6" font-size="14.3" fill="#e0652a" text-anchor="middle" font-weight="bold" stroke="#e0652a" stroke-width="0.25" >矿用浇封电源</text>
<text x="699.2" y="674.0" font-size="15" fill="#e0652a" text-anchor="middle" font-weight="bold" stroke="#e0652a" stroke-width="0.25"  textLength="99" lengthAdjust="spacingAndGlyphs">KDW28-18(A)</text>
<text x="699.2" y="691.5" font-size="14.3" fill="#e0652a" text-anchor="middle" font-weight="bold" stroke="#e0652a" stroke-width="0.25" >矿用电源</text>
<text x="837" y="674.0" font-size="15" fill="#e0652a" text-anchor="middle" font-weight="bold" stroke="#e0652a" stroke-width="0.25"  textLength="99" lengthAdjust="spacingAndGlyphs">KDW28-18(A)</text>
<text x="837" y="691.5" font-size="14.3" fill="#e0652a" text-anchor="middle" font-weight="bold" stroke="#e0652a" stroke-width="0.25" >矿用电源</text>
<text x="979.4" y="674.0" font-size="15" fill="#e0652a" text-anchor="middle" font-weight="bold" stroke="#e0652a" stroke-width="0.25"  textLength="99" lengthAdjust="spacingAndGlyphs">KDW28-18(A)</text>
<text x="979.4" y="691.5" font-size="14.3" fill="#e0652a" text-anchor="middle" font-weight="bold" stroke="#e0652a" stroke-width="0.25" >矿用电源</text>
<text x="1523.5" y="647.0" font-size="13.5" fill="#e0652a" text-anchor="middle" font-weight="bold" stroke="#e0652a" stroke-width="0.25"  textLength="101.4" lengthAdjust="spacingAndGlyphs">KDW660/24BJ(B)</text>
<text x="1523.5" y="664.5" font-size="14.3" fill="#e0652a" text-anchor="middle" font-weight="bold" stroke="#e0652a" stroke-width="0.25" >智能电源</text>
<text x="1327" y="646.0" font-size="14.3" fill="#23478d" text-anchor="middle" font-weight="bold" stroke="#23478d" stroke-width="0.25"  textLength="152" lengthAdjust="spacingAndGlyphs">矿用本安LED语音报警器</text>
<text x="214.6" y="889.5" font-size="14.3" fill="#23478d" text-anchor="middle" font-weight="bold" stroke="#23478d" stroke-width="0.25" >人员定位分站</text>
<text x="835.4" y="885.5" font-size="14.3" fill="#23478d" text-anchor="middle" font-weight="bold" stroke="#23478d" stroke-width="0.25" >人员定位分站</text>
<text x="1355" y="874.5" font-size="14.3" fill="#23478d" text-anchor="middle" font-weight="bold" stroke="#23478d" stroke-width="0.25" >人员定位分站</text>
<text x="572" y="504.5" font-size="14.1" fill="#23478d" text-anchor="middle" font-weight="bold" stroke="#23478d" stroke-width="0.25" >井下环网交换机</text>
<text x="808.5" y="546.5" font-size="14.1" fill="#23478d" text-anchor="middle" font-weight="bold" stroke="#23478d" stroke-width="0.25" >井下环网交换机</text>
<text x="1018" y="513.5" font-size="14.1" fill="#23478d" text-anchor="middle" font-weight="bold" stroke="#23478d" stroke-width="0.25" >井下环网交换机</text>
<text x="102.8" y="1038.4" font-size="14" fill="#23478d" text-anchor="middle" font-weight="bold" stroke="#23478d" stroke-width="0.25" >车辆定位卡</text>
<text x="644.4" y="1036.3" font-size="14" fill="#23478d" text-anchor="middle" font-weight="bold" stroke="#23478d" stroke-width="0.25" >车辆定位卡</text>
<text x="1178.5" y="1033.8" font-size="14" fill="#23478d" text-anchor="middle" font-weight="bold" stroke="#23478d" stroke-width="0.25" >车辆定位卡</text>
<text x="253.6" y="1042.5" font-size="14" fill="#23478d" text-anchor="middle" font-weight="bold" stroke="#23478d" stroke-width="0.25" >定位卡</text>
<text x="800.4" y="1040.0" font-size="14" fill="#23478d" text-anchor="middle" font-weight="bold" stroke="#23478d" stroke-width="0.25" >定位卡</text>
<text x="1328.6" y="1034.4" font-size="14" fill="#23478d" text-anchor="middle" font-weight="bold" stroke="#23478d" stroke-width="0.25" >定位卡</text>
<text x="422.4" y="1036.9" font-size="14" fill="#23478d" text-anchor="middle" font-weight="bold" stroke="#23478d" stroke-width="0.25" >信息矿灯</text>
<text x="963.9" y="1036.3" font-size="14" fill="#23478d" text-anchor="middle" font-weight="bold" stroke="#23478d" stroke-width="0.25" >信息矿灯</text>
<text x="1497.4" y="1031.3" font-size="14" fill="#23478d" text-anchor="middle" font-weight="bold" stroke="#23478d" stroke-width="0.25" >信息矿灯</text>
<g style="mix-blend-mode:multiply"><g transform="translate(123 237)"><path d="M158 79 C150 45 125 33 89 33 C55 33 26 55 24 87 L152 118 C156 145 130 164 89 164 C60 164 38 148 28 118" fill="none" stroke="#e2f3e8" stroke-width="17" stroke-linejoin="miter"/><path d="M189.1 53.4 L229.3 66.8 L184.6 208.6 L144.4 195.2 Z M260.6 76.8 L300.8 90.2 L256.1 232.0 L215.9 218.6 Z M316.4 95.8 L356.6 109.2 L311.9 251.0 L271.7 237.6 Z M387.9 119.2 L428.1 132.6 L383.4 274.4 L343.2 261.0 Z" fill="#e2f3e8"/><path d="M172 124.7 C190 111 220 111 240 124 Q262 140 274 165 Q255 150 230 149 Q205 149 188.7 160.7 Z M304.1 166.5 Q334 151 367.7 169.9 Q392 184 406.1 206.7 Q384 194 350.9 193.3 Q330 194 317.5 203.3 Z" fill="#fdeedc"/></g>
<g transform="translate(620 400)"><path d="M158 79 C150 45 125 33 89 33 C55 33 26 55 24 87 L152 118 C156 145 130 164 89 164 C60 164 38 148 28 118" fill="none" stroke="#e2f3e8" stroke-width="17" stroke-linejoin="miter"/><path d="M189.1 53.4 L229.3 66.8 L184.6 208.6 L144.4 195.2 Z M260.6 76.8 L300.8 90.2 L256.1 232.0 L215.9 218.6 Z M316.4 95.8 L356.6 109.2 L311.9 251.0 L271.7 237.6 Z M387.9 119.2 L428.1 132.6 L383.4 274.4 L343.2 261.0 Z" fill="#e2f3e8"/><path d="M172 124.7 C190 111 220 111 240 124 Q262 140 274 165 Q255 150 230 149 Q205 149 188.7 160.7 Z M304.1 166.5 Q334 151 367.7 169.9 Q392 184 406.1 206.7 Q384 194 350.9 193.3 Q330 194 317.5 203.3 Z" fill="#fdeedc"/></g>
<g transform="translate(1117 563)"><path d="M158 79 C150 45 125 33 89 33 C55 33 26 55 24 87 L152 118 C156 145 130 164 89 164 C60 164 38 148 28 118" fill="none" stroke="#e2f3e8" stroke-width="17" stroke-linejoin="miter"/><path d="M189.1 53.4 L229.3 66.8 L184.6 208.6 L144.4 195.2 Z M260.6 76.8 L300.8 90.2 L256.1 232.0 L215.9 218.6 Z M316.4 95.8 L356.6 109.2 L311.9 251.0 L271.7 237.6 Z M387.9 119.2 L428.1 132.6 L383.4 274.4 L343.2 261.0 Z" fill="#e2f3e8"/><path d="M172 124.7 C190 111 220 111 240 124 Q262 140 274 165 Q255 150 230 149 Q205 149 188.7 160.7 Z M304.1 166.5 Q334 151 367.7 169.9 Q392 184 406.1 206.7 Q384 194 350.9 193.3 Q330 194 317.5 203.3 Z" fill="#fdeedc"/></g></g>
</svg>
</body></html>
